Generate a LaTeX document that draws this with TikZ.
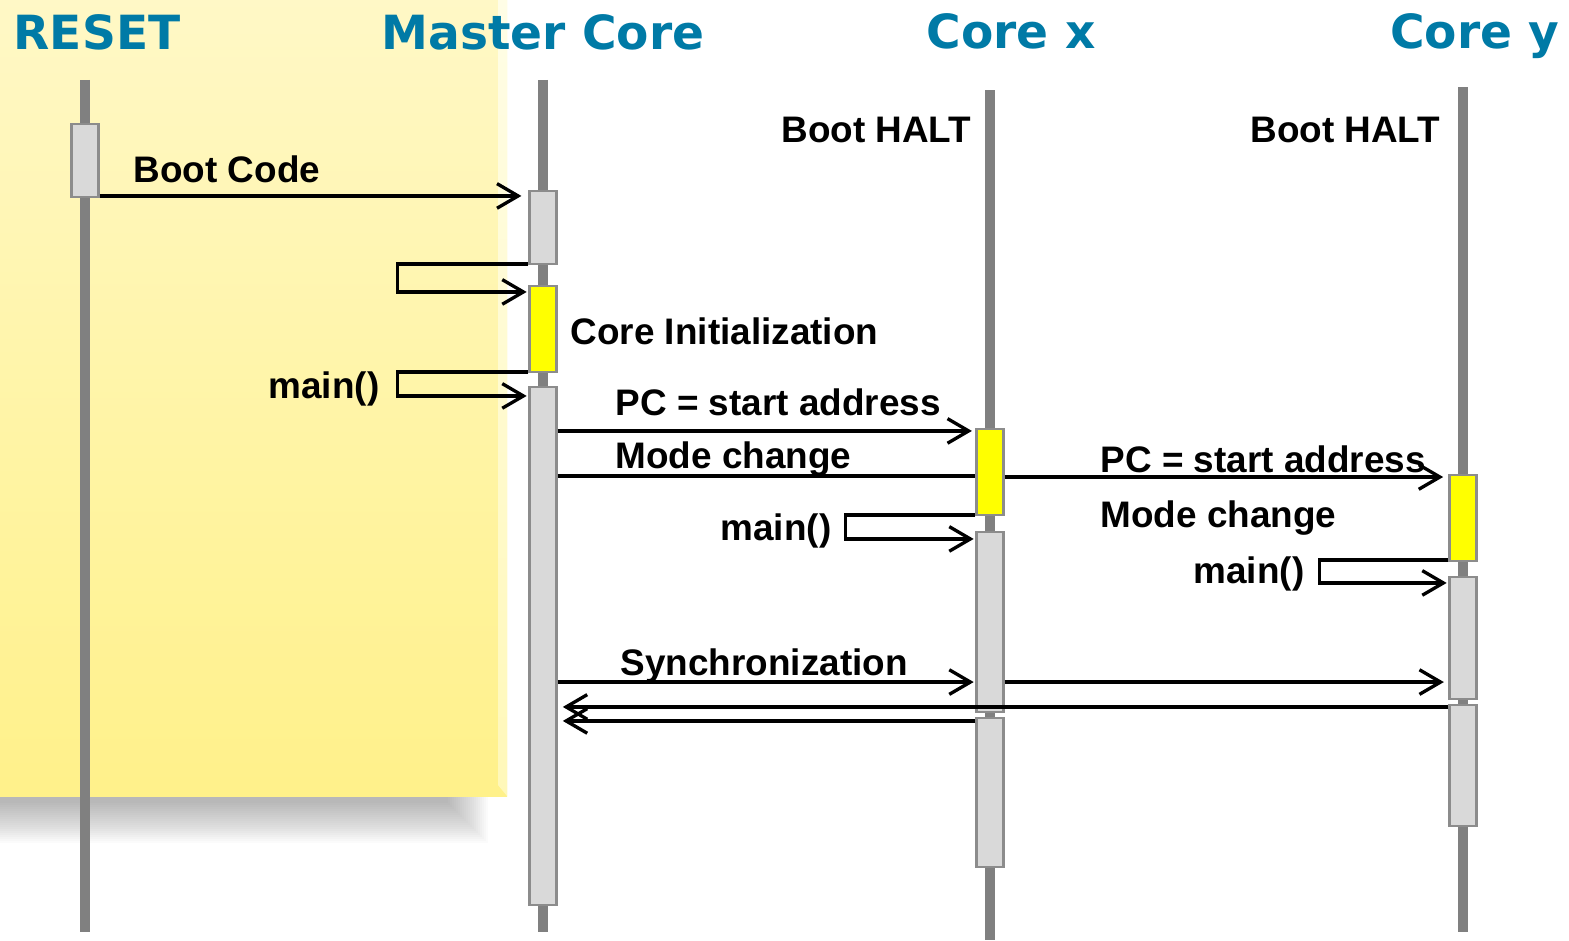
\documentclass[tikz,border=0pt]{standalone}
\usepackage{fontspec}
\setmainfont{Liberation Sans}
\newfontfamily\headfont{DejaVu Sans}
\usetikzlibrary{arrows.meta}

\definecolor{titleBlue}{RGB}{0,122,166}
\definecolor{lifeGray}{RGB}{128,128,128}
\definecolor{boxGray}{RGB}{217,217,217}
\definecolor{boxEdge}{RGB}{140,140,140}
\definecolor{initYellow}{RGB}{255,255,0}
\definecolor{panelTop}{RGB}{255,248,198}
\definecolor{panelBottom}{RGB}{255,241,138}
\definecolor{panelEdgeTop}{RGB}{255,253,230}
\definecolor{panelEdgeBottom}{RGB}{255,248,185}

\begin{document}
\begin{tikzpicture}[
  font=\fontsize{10.5pt}{12.6pt}\selectfont\bfseries,
  title/.style={font=\headfont\fontsize{13.4pt}{16pt}\selectfont\bfseries, text=titleBlue, inner sep=0pt},
  label/.style={inner sep=0pt},
  lifeline/.style={draw=lifeGray, line width=2.85pt},
  act/.style={draw=boxEdge, line width=0.6pt, fill=boxGray, minimum width=0.27cm, inner sep=0pt},
  init/.style={act, fill=initYellow},
  msg/.style={draw=black, line width=0.95pt, -{Straight Barb[length=6pt,width=7pt,line width=0.95pt]}},
  plain/.style={draw=black, line width=0.95pt}
]

\useasboundingbox (0,0) rectangle (15.69,9.40);

% Shadow under the start-up panel
\foreach \r in {-20,-18,...,20} {
  \fill[black, opacity=0.016] (-0.1,2.0) rectangle ({4.68+\r/100},{1.17-\r/100});
}

% Start-up panel
\shade[top color=panelTop, bottom color=panelBottom] (0,9.40) rectangle (5.07,1.44);
\shade[top color=panelEdgeTop, bottom color=panelEdgeBottom] (4.98,9.40) -- (5.07,9.40) -- (5.07,1.44) -- (4.98,1.55) -- cycle;

% Titles
\node[title, anchor=base west] (resetTitle) at (0.13,8.91) {RESET};
\node[title, anchor=base] (masterTitle) at (5.43,8.91) {Master Core};
\node[title, anchor=base] (xTitle) at (10.11,8.92) {Core x};
\node[title, anchor=base east] (yTitle) at (15.60,8.92) {Core y};

% Lifelines
\coordinate (resetTop) at (0.85,8.60);
\coordinate (resetBot) at (0.85,0.08);
\coordinate (masterTop) at (5.43,8.60);
\coordinate (masterBot) at (5.43,0.08);
\coordinate (xTop) at (9.90,8.50);
\coordinate (xBot) at (9.90,0.00);
\coordinate (yTop) at (14.63,8.53);
\coordinate (yBot) at (14.63,0.08);
\draw[lifeline] (resetTop) -- (resetBot);
\draw[lifeline] (masterTop) -- (masterBot);
\draw[lifeline] (xTop) -- (xBot);
\draw[lifeline] (yTop) -- (yBot);

% Activation boxes
\node[act, minimum height=0.73cm] (resetAct) at (0.85,7.795) {};
\node[act, minimum height=0.73cm] (masterBoot) at (5.43,7.125) {};
\node[init, minimum height=0.86cm] (masterInit) at (5.43,6.11) {};
\node[act, minimum height=5.18cm] (masterRun) at (5.43,2.94) {};
\node[init, minimum height=0.86cm] (xInit) at (9.90,4.68) {};
\node[act, minimum height=1.80cm] (xRun) at (9.90,3.18) {};
\node[act, minimum height=1.49cm] (xSync) at (9.90,1.475) {};
\node[init, minimum height=0.86cm] (yInit) at (14.63,4.22) {};
\node[act, minimum height=1.22cm] (yRun) at (14.63,3.02) {};
\node[act, minimum height=1.21cm] (ySync) at (14.63,1.745) {};

% Labels
\node[label, anchor=base west] (bootLbl) at (1.33,7.57) {Boot Code};
\node[label, anchor=base west] (initLbl) at (5.70,5.96) {Core Initialization};
\node[label, anchor=base east] (mainM) at (3.80,5.42) {main()};
\node[label, anchor=base west] (pcX) at (6.15,5.25) {PC = start address};
\node[label, anchor=base west] (modeX) at (6.15,4.71) {Mode change};
\node[label, anchor=base east] (haltX) at (9.72,7.98) {Boot HALT};
\node[label, anchor=base east] (haltY) at (14.41,7.98) {Boot HALT};
\node[label, anchor=base west] (pcY) at (11.00,4.68) {PC = start address};
\node[label, anchor=base west] (modeY) at (11.00,4.13) {Mode change};
\node[label, anchor=base east] (mainX) at (8.32,4.00) {main()};
\node[label, anchor=base east] (mainY) at (13.05,3.57) {main()};
\node[label, anchor=base west] (syncLbl) at (6.20,2.65) {Synchronization};

% Boot sequence on the master core
\draw[msg, shorten >=2pt] ([yshift=0.6pt]resetAct.south east) -- ([yshift=0.6pt]resetAct.south east -| masterBoot.west);
\draw[msg, shorten >=0.5pt] ([yshift=0.3pt]masterBoot.south west) -- ++(-1.31,0) |- ([yshift=-0.07cm]masterInit.north west);
\draw[msg, shorten >=0.5pt] ([yshift=0.3pt]masterInit.south west) -- ++(-1.31,0) |- ([yshift=-0.10cm]masterRun.north west);

% Start of core x and core y
\draw[msg, shorten >=1pt] ([yshift=-0.03cm]masterRun.east |- xInit.north west) -- ([yshift=-0.03cm]xInit.north west);
\draw[plain] ([yshift=-0.04cm]masterRun.east |- xInit.west) -- ([yshift=-0.04cm]xInit.west);
\draw[msg, shorten >=1.5pt] ([yshift=-0.05cm]xInit.east) -- ([yshift=-0.05cm]xInit.east -| yInit.west);
\draw[msg, shorten >=0.5pt] ([yshift=0.3pt]xInit.south west) -- ++(-1.30,0) |- ([yshift=-0.08cm]xRun.north west);
\draw[msg, shorten >=0.5pt] ([yshift=0.6pt]yInit.south west) -- ++(-1.29,0) |- ([yshift=-0.07cm]yRun.north west);

% Synchronization
\draw[msg, shorten >=0.5pt] ([yshift=0.31cm]masterRun.east |- xRun.south west) -- ([yshift=0.31cm]xRun.south west);
\draw[msg, shorten >=1.3pt] ([yshift=0.31cm]xRun.south east) -- ([yshift=0.31cm]xRun.south east -| yRun.west);
\draw[msg, shorten >=1.5pt] ([yshift=-0.03cm]ySync.north west) -- ([yshift=-0.03cm]ySync.north west -| masterRun.east);
\draw[msg, shorten >=1.5pt] ([yshift=-0.04cm]xSync.north west) -- ([yshift=-0.04cm]xSync.north west -| masterRun.east);

\end{tikzpicture}
\end{document}
